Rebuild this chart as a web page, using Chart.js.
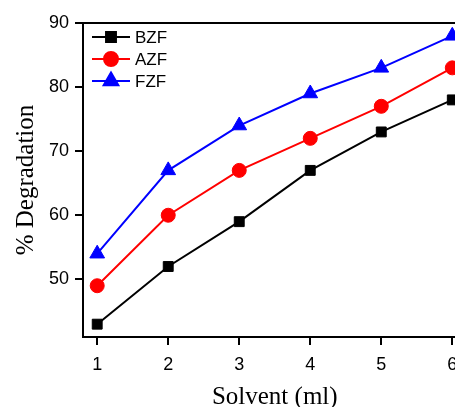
<!DOCTYPE html>
<html>
<head>
<meta charset="utf-8">
<script src="https://cdn.jsdelivr.net/npm/chart.js@4/dist/chart.umd.min.js"></script>
<style>
html,body{margin:0;padding:0;background:#fff;overflow:hidden;}
#wrap{width:455px;height:407px;overflow:hidden;position:relative;}
#c{position:absolute;left:0;top:0;}
</style>
</head>
<body>
<div id="wrap"><canvas id="c" width="476" height="407"></canvas></div>
<script>
const solvent = [1, 2, 3, 4, 5, 6];
const bzf = [43, 52, 59, 67, 73, 78];
const azf = [49, 60, 67, 72, 77, 83];
const fzf = [54, 67, 74, 79, 83, 88];
const xTicks = [1, 2, 3, 4, 5, 6];
const yTicks = [50, 60, 70, 80, 90];
const seriesNames = ['BZF', 'AZF', 'FZF'];

const pts = arr => solvent.map((x, i) => ({x: x, y: arr[i]}));

const legendPlugin = {
  id: 'insideLegend',
  afterDatasetsDraw(chart) {
    const ctx = chart.ctx;
    const a = chart.chartArea;
    const rows = [37, 59, 81];
    chart.data.datasets.forEach((ds, i) => {
      const y = rows[i];
      const x0 = a.left + 9, x1 = a.left + 47, xm = (x0 + x1) / 2;
      ctx.save();
      ctx.strokeStyle = ds.borderColor;
      ctx.lineWidth = 2;
      ctx.beginPath(); ctx.moveTo(x0, y); ctx.lineTo(x1, y); ctx.stroke();
      ctx.fillStyle = ds.pointBackgroundColor;
      ctx.strokeStyle = ds.pointBackgroundColor;
      Chart.helpers.drawPoint(ctx, {pointStyle: ds.pointStyle, radius: ds.pointRadius, borderWidth: 1}, xm, y);
      ctx.fillStyle = '#000';
      ctx.font = '17px "Liberation Sans", Arial, sans-serif';
      ctx.textBaseline = 'middle';
      ctx.textAlign = 'left';
      ctx.fillText(seriesNames[i], x1 + 5, y + 1);
      ctx.restore();
    });
    ctx.save();
    ctx.strokeStyle = '#000';
    ctx.lineWidth = 2;
    ctx.beginPath(); ctx.moveTo(a.left - 1, a.top); ctx.lineTo(a.right + 1, a.top); ctx.stroke();
    ctx.restore();
  }
};

const mk = (label, data, color, style, r) => ({
  label, data: pts(data), borderColor: color, backgroundColor: color,
  pointBackgroundColor: color, pointBorderColor: color, pointStyle: style,
  pointRadius: r, pointBorderWidth: 1, borderWidth: 2, tension: 0
});

new Chart(document.getElementById('c'), {
  type: 'line',
  data: {
    datasets: [
      mk('BZF', bzf, '#000000', 'rect', 7),
      mk('AZF', azf, '#ff0000', 'circle', 7),
      mk('FZF', fzf, '#0000ff', 'triangle', 8.5)
    ]
  },
  options: {
    responsive: false,
    animation: false,
    clip: false,
    layout: {padding: {top: 23, right: 5, left: 0, bottom: 0}},
    plugins: {legend: {display: false}, tooltip: {enabled: false}},
    scales: {
      x: {
        type: 'linear', min: 0.8, max: 6.2,
        afterFit: s => { s.height = 70; s.paddingLeft = 0; s.paddingRight = 0; },
        afterBuildTicks: s => { s.ticks = xTicks.map(v => ({value: v})); },
        border: {color: '#000', width: 2},
        grid: {drawOnChartArea: false, color: '#000', tickLength: 8, lineWidth: 2},
        ticks: {color: '#000', padding: 9, font: {family: '"Liberation Sans", Arial, sans-serif', size: 18}},
        title: {display: true, text: 'Solvent (ml)', color: '#000', padding: {top: 0, bottom: -5},
                font: {family: '"Liberation Serif", "Times New Roman", serif', size: 25}}
      },
      y: {
        type: 'linear', min: 41, max: 90,
        afterFit: s => { s.width = 83; s.paddingTop = 0; s.paddingBottom = 0; },
        afterBuildTicks: s => { s.ticks = yTicks.map(v => ({value: v})); },
        border: {color: '#000', width: 2},
        grid: {drawOnChartArea: false, color: '#000', tickLength: 8, lineWidth: 2},
        ticks: {color: '#000', padding: 6, font: {family: '"Liberation Sans", Arial, sans-serif', size: 18}},
        title: {display: true, text: '% Degradation', color: '#000', padding: {top: 11, bottom: 0},
                font: {family: '"Liberation Serif", "Times New Roman", serif', size: 25}}
      }
    }
  },
  plugins: [legendPlugin]
});
</script>
</body>
</html>
